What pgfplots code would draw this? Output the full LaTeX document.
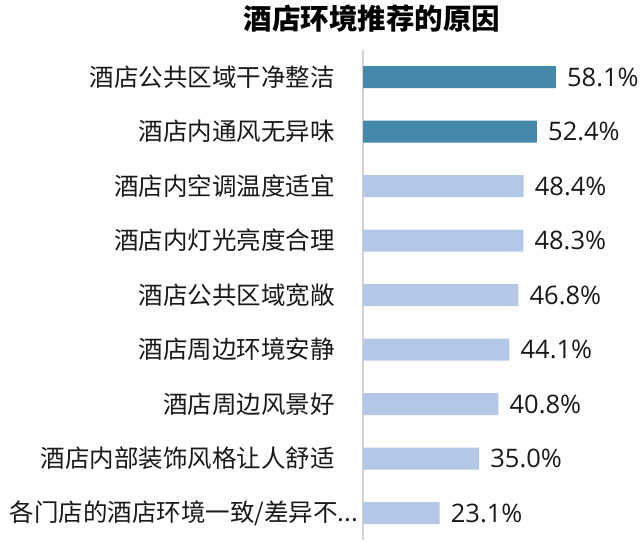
\documentclass[border=0pt]{standalone}
\usepackage{pgfplots}
\pgfplotsset{compat=1.18}
\usepackage{fontspec}
\setmainfont{Open Sans}
\newfontfamily\cjk{Noto Sans CJK SC}
\definecolor{dark}{HTML}{4589AA}
\definecolor{light}{HTML}{B4C7E7}
\begin{document}
\begin{tikzpicture}[x=1bp,y=1bp]
\path[use as bounding box] (0,0) rectangle (644,-542);
\node[font=\cjk\bfseries\fontsize{28.5bp}{32bp}\selectfont, text=black] at (372,-19) {酒店环境推荐的原因};
\begin{axis}[
  at={(363bp,-540.25bp)}, anchor=south west,
  scale only axis, width=265.6bp, height=490.5bp,
  xmin=0, xmax=80, ymin=-0.5, ymax=8.5, y dir=reverse,
  axis x line=none, axis y line*=left,
  y axis line style={draw=gray!35, line width=1.5bp},
  ytick={0,...,8}, major tick length=0pt,
  yticklabels={酒店公共区域干净整洁,酒店内通风无异味,酒店内空调温度适宜,酒店内灯光亮度合理,酒店公共区域宽敞,酒店周边环境安静,酒店周边风景好,酒店内部装饰风格让人舒适,{\makebox[325bp][l]{各门店的酒店环境一致/差异不...}}},
  yticklabel style={font=\cjk\fontsize{24.5bp}{28bp}\selectfont, anchor=east, inner sep=0pt, xshift=-28bp, text=black!90},
  xbar, bar width=22bp, bar shift=0pt,
  point meta=x,
  nodes near coords={\pgfmathprintnumber[fixed,fixed zerofill,precision=1,assume math mode=true]{\pgfplotspointmeta}\%},
  every node near coord/.append style={font=\fontsize{25.5bp}{29bp}\selectfont, anchor=west, inner sep=0pt, xshift=11bp, text=black!90},
  clip=false,
]
\addplot[fill=dark, draw=none] coordinates {(58.1,0) (52.4,1)};
\addplot[fill=light, draw=none] coordinates {(48.4,2) (48.3,3) (46.8,4) (44.1,5) (40.8,6) (35.0,7) (23.1,8)};
\end{axis}
\end{tikzpicture}
\end{document}
